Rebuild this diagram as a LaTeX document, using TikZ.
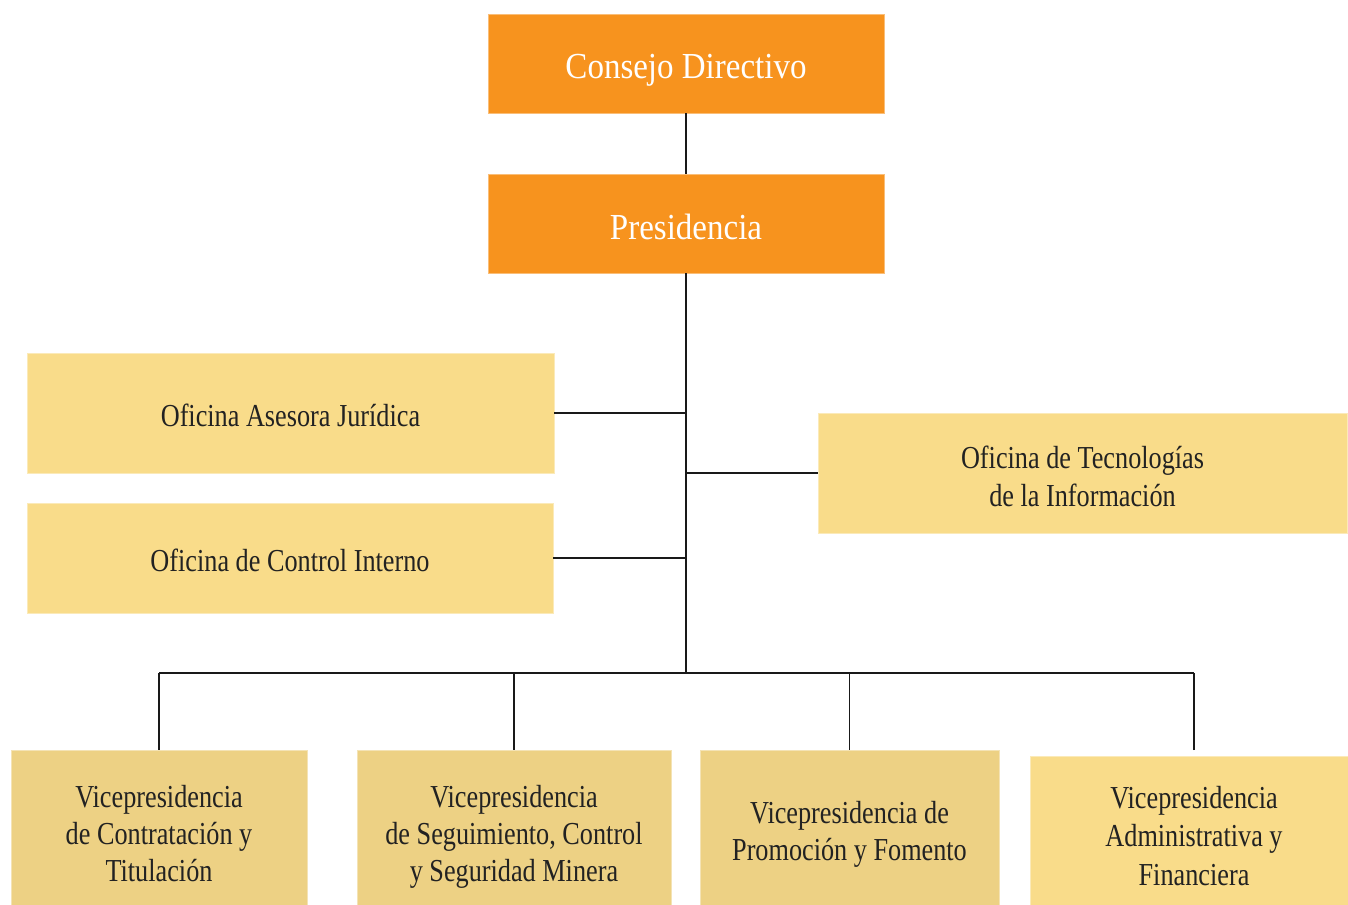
\documentclass[tikz,border=0pt]{standalone}
\usepackage{fontspec}
\setmainfont{Liberation Serif}[FakeStretch=0.82]
\newfontfamily\titlefont{Liberation Serif}[FakeStretch=0.9]
\definecolor{orangebox}{HTML}{F7931E}
\definecolor{lightbox}{HTML}{F9DC8A}
\definecolor{darkbox}{HTML}{EDD184}
\definecolor{txt}{HTML}{222222}
\newcommand\txtat[2]{\raisebox{-#1}[0pt][0pt]{\begin{tabular}[t]{@{}c@{}}#2\end{tabular}}}
\begin{document}
\begin{tikzpicture}[x=0.75pt,y=-0.75pt,
  topbox/.style={rectangle,fill=orangebox,draw=orangebox!60!white,line width=0.6pt,text=white,font=\titlefont\fontsize{27.5}{32}\selectfont,inner sep=0pt},
  unitbox/.style={rectangle,fill=lightbox,draw=lightbox!60!white,line width=0.6pt,text=txt,font=\fontsize{24}{28.5}\selectfont,inner sep=0pt},
  vicebox/.style={unitbox,fill=darkbox,draw=darkbox!60!white,font=\fontsize{24}{27.75}\selectfont},
  link/.style={draw=black!90,line width=1.1pt}]
\useasboundingbox (0,0) rectangle (1348,904);
\clip (0,0) rectangle (1348,904);
\node[topbox,minimum width=396*0.75pt,minimum height=99*0.75pt] (cd) at (686,63.5) {\txtat{11.6pt}{Consejo Directivo}};
\node[topbox,minimum width=396*0.75pt,minimum height=99*0.75pt] (pres) at (686,223.5) {\txtat{12.2pt}{Presidencia}};
\node[unitbox,minimum width=527*0.75pt,minimum height=120*0.75pt] (oaj) at (290.5,413) {\txtat{9.75pt}{Oficina Asesora Jurídica}};
\node[unitbox,minimum width=526*0.75pt,minimum height=110*0.75pt] (oci) at (290,558) {\txtat{9.75pt}{Oficina de Control Interno}};
\node[unitbox,minimum width=529*0.75pt,minimum height=120*0.75pt] (oti) at (1082.5,473) {\txtat{-3.75pt}{Oficina de Tecnologías\\de la Información}};
\node[vicebox,minimum width=296*0.75pt,minimum height=168*0.75pt] (v1) at (159,834) {\txtat{-20.25pt}{Vicepresidencia\\de Contratación y\\Titulación}};
\node[vicebox,minimum width=314*0.75pt,minimum height=168*0.75pt] (v2) at (514,834) {\txtat{-20.25pt}{Vicepresidencia\\de Seguimiento, Control\\y Seguridad Minera}};
\node[vicebox,minimum width=299*0.75pt,minimum height=168*0.75pt] (v3) at (849.5,834) {\txtat{-8.25pt}{Vicepresidencia de\\Promoción y Fomento}};
\node[unitbox,minimum width=318*0.75pt,minimum height=160*0.75pt,font=\fontsize{24}{28.9}\selectfont] (v4) at (1189,836) {\hspace*{7.5pt}\txtat{-21pt}{Vicepresidencia\\Administrativa y\\Financiera}};
\coordinate (bus) at (686,673);
\coordinate (v4top) at (1194,750);
\draw[link] (cd.south) -- (pres.north);
\draw[link] (pres.south) -- (bus);
\draw[link] (oaj.east) -- (oaj.east -| bus);
\draw[link] (oci.east) -- (oci.east -| bus);
\draw[link] (oti.west) -- (oti.west -| bus);
\draw[link] (v1.north |- bus) -- (v4top |- bus);
\draw[link] (v1.north) -- (v1.north |- bus);
\draw[link] (v2.north) -- (v2.north |- bus);
\draw[link] (v3.north) -- (v3.north |- bus);
\draw[link] (v4top) -- (v4top |- bus);
\end{tikzpicture}
\end{document}
